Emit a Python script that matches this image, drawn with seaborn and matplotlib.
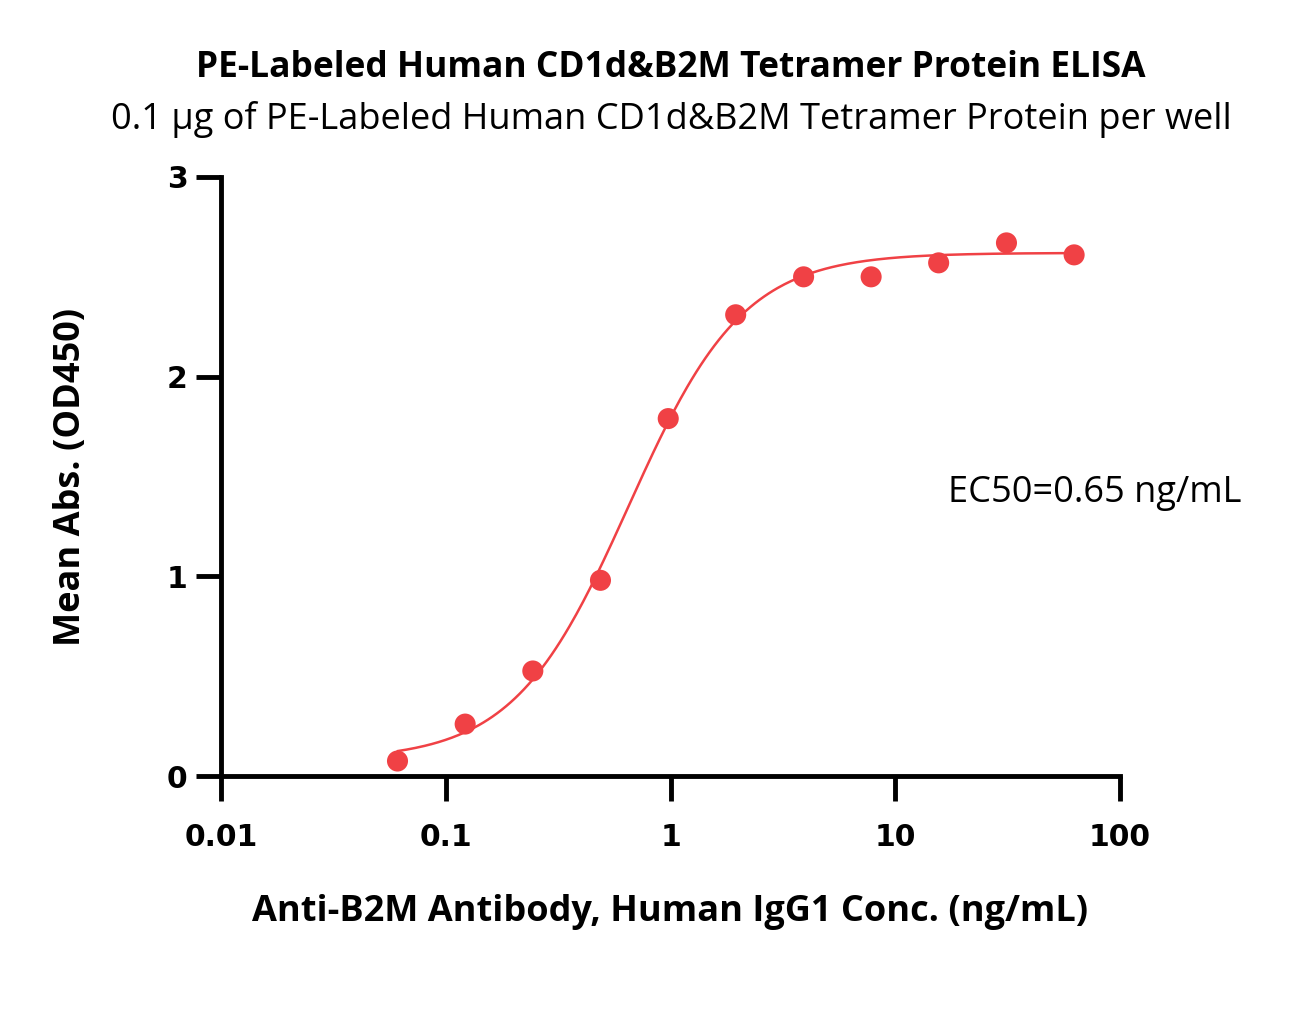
import numpy as np
import pandas as pd
import matplotlib
matplotlib.use("Agg")
import matplotlib.pyplot as plt
import seaborn as sns

# Data
conc = [0.061, 0.122, 0.244, 0.488, 0.977, 1.95, 3.91, 7.81, 15.6, 31.25, 62.5]
od450 = [0.075, 0.26, 0.526, 0.98, 1.79, 2.31, 2.50, 2.50, 2.57, 2.67, 2.61]
# 4PL fit parameters
fit_bottom = 0.08
fit_top = 2.62
fit_ec50 = 0.65
fit_hill = 1.7

title = "PE-Labeled Human CD1d&B2M Tetramer Protein ELISA"
subtitle = "0.1 \u00b5g of PE-Labeled Human CD1d&B2M Tetramer Protein per well"
xlabel = "Anti-B2M Antibody, Human IgG1 Conc. (ng/mL)"
ylabel = "Mean Abs. (OD450)"
ec50_text = "EC50=0.65 ng/mL"
xticks = [0.01, 0.1, 1, 10, 100]
xticklabels = ["0.01", "0.1", "1", "10", "100"]
yticks = [0, 1, 2, 3]

red = "#F04145"

sns.set_theme(style="ticks")
plt.rcParams['font.family'] = ['DejaVu Sans']
plt.rcParams['text.color'] = 'black'
plt.rcParams['axes.labelcolor'] = 'black'
plt.rcParams['xtick.color'] = 'black'
plt.rcParams['ytick.color'] = 'black'

fig = plt.figure(figsize=(12.89, 10.23), dpi=100)
ax = fig.add_axes([221/1289, 1-776/1023, (1120-221)/1289, (776-177)/1023])

df = pd.DataFrame({"conc": conc, "od": od450})
xs = np.logspace(np.log10(conc[0]), np.log10(conc[-1]), 300)
ys = fit_bottom + (fit_top - fit_bottom) / (1 + (fit_ec50 / xs) ** fit_hill)
curve = pd.DataFrame({"x": xs, "y": ys})

sns.lineplot(data=curve, x="x", y="y", ax=ax, color=red, lw=1.8)
sns.scatterplot(data=df, x="conc", y="od", ax=ax, color=red, s=230, edgecolor="none", zorder=3)

ax.set_xscale("log")
ax.set_xlim(0.01, 100)
ax.set_ylim(0, 3)
ax.set_xticks(xticks)
ax.set_xticklabels(xticklabels)
ax.set_yticks(yticks)
ax.minorticks_off()

for s in ["top", "right"]:
    ax.spines[s].set_visible(False)
for s in ["left", "bottom"]:
    ax.spines[s].set_linewidth(3.5)
    ax.spines[s].set_color("black")
ax.tick_params(axis="both", which="major", length=18, width=3.5, color="black",
               labelsize=21.5, direction="out", bottom=True, left=True, labelcolor="black")
ax.tick_params(axis="x", pad=16)
ax.tick_params(axis="y", pad=6)
for lab in ax.get_xticklabels() + ax.get_yticklabels():
    lab.set_fontweight("bold")
    lab.set_family("DejaVu Sans")

ax.set_xlabel(xlabel, fontsize=26, fontweight="bold", family="Open Sans", labelpad=30, color="black")
ax.set_ylabel(ylabel, fontsize=26, fontweight="bold", family="Open Sans", labelpad=56, color="black")
ax.set_facecolor("white")

fig.text(0.5 * (193 + 1148) / 1289, 1-68/1023, title, ha="center", va="center", fontsize=25.5,
         fontweight="bold", family="Open Sans", color="black")
fig.text(0.5 * (107 + 1236) / 1289, 1-119/1023, subtitle, ha="center", va="center", fontsize=26,
         family="Open Sans", color="black")
fig.text(948/1289, 1-493/1023, ec50_text, ha="left", va="center", fontsize=26, family="Open Sans", color="black")

fig.savefig("out.png", dpi=100, facecolor="white")
